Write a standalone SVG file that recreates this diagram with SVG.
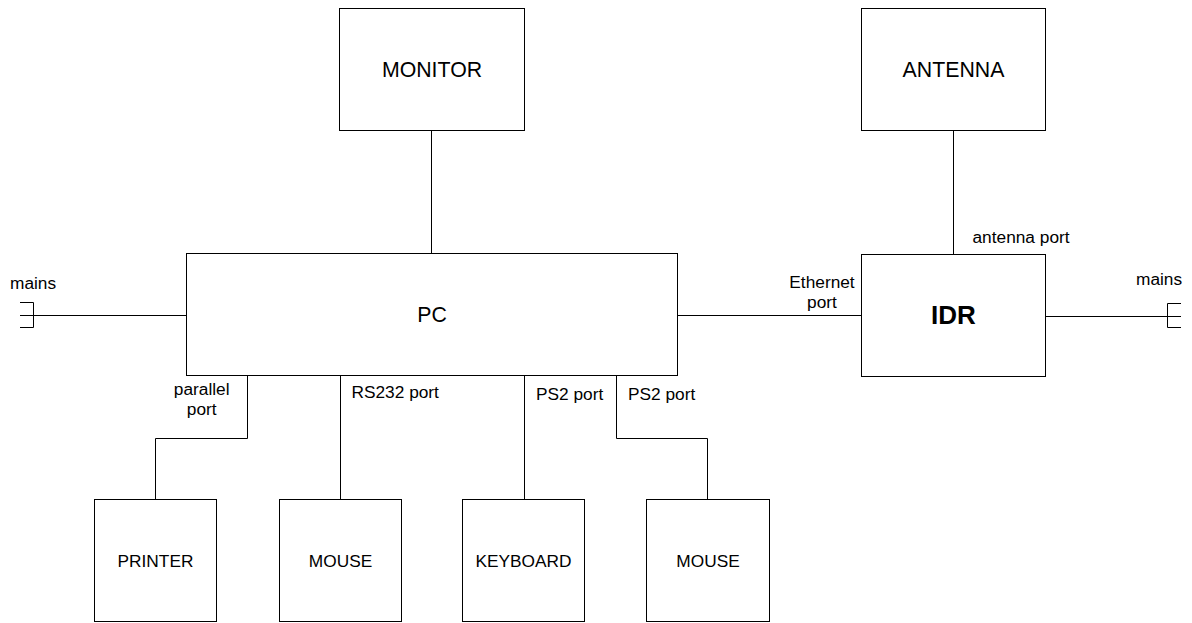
<svg xmlns="http://www.w3.org/2000/svg" width="1192" height="623" viewBox="0 0 1192 623">
<style>
.box{fill:#fff;stroke:#000;stroke-width:1}
.ln{fill:none;stroke:#000;stroke-width:1}
text{font-family:"Liberation Sans",Arial,sans-serif;fill:#000}
.big{font-size:21.3px;text-anchor:middle}
.sm{font-size:17.3px;text-anchor:middle}
.lbl{font-size:17.3px}
.bold{font-size:26px;font-weight:bold;text-anchor:middle}
</style>
<rect width="1192" height="623" fill="#fff"/>
<g id="connectors">
<line class="ln" x1="431.5" y1="130.5" x2="431.5" y2="253.5"/>
<line class="ln" x1="953.5" y1="130.5" x2="953.5" y2="254.5"/>
<line class="ln" x1="677.5" y1="315.5" x2="861.5" y2="315.5"/>
<line class="ln" x1="1045.5" y1="316.5" x2="1181" y2="316.5"/>
<path class="ln" d="M1181 303.5 H1167.5 V327.5 H1181"/>
<line class="ln" x1="20" y1="315.5" x2="186.5" y2="315.5"/>
<path class="ln" d="M20 302.5 H33.5 V327.5 H20"/>
<path class="ln" d="M247.5 375.5 V438.5 H155.5 V499.5"/>
<line class="ln" x1="340.5" y1="375.5" x2="340.5" y2="499.5"/>
<line class="ln" x1="524.5" y1="375.5" x2="524.5" y2="499.5"/>
<path class="ln" d="M616.5 375.5 V438.5 H707.5 V499.5"/>
<text class="lbl" x="10" y="289">mains</text>
<text class="lbl" x="1136" y="285">mains</text>
<text class="sm" x="201.7" y="395">parallel</text>
<text class="sm" x="201.7" y="415">port</text>
<text class="lbl" x="351.5" y="398">RS232 port</text>
<text class="lbl" x="536" y="400">PS2 port</text>
<text class="lbl" x="628" y="400">PS2 port</text>
<text class="sm" x="822" y="288">Ethernet</text>
<text class="sm" x="822" y="308">port</text>
<text class="lbl" x="972.5" y="243">antenna port</text>
</g>
<g id="monitor"><rect class="box" x="339.5" y="8.5" width="185" height="122"/><text class="big" x="432" y="76.7">MONITOR</text></g>
<g id="antenna"><rect class="box" x="861.5" y="8.5" width="184" height="122"/><text class="big" x="953.5" y="76.7">ANTENNA</text></g>
<g id="pc"><rect class="box" x="186.5" y="253.5" width="491" height="122"/><text class="big" x="432" y="321.7">PC</text></g>
<g id="idr"><rect class="box" x="861.5" y="254.5" width="184" height="122"/><text class="bold" x="953.5" y="324">IDR</text></g>
<g id="printer"><rect class="box" x="94.5" y="499.5" width="122" height="122"/><text class="sm" x="155.5" y="566.5">PRINTER</text></g>
<g id="mouse1"><rect class="box" x="279.5" y="499.5" width="122" height="122"/><text class="sm" x="340.5" y="566.5">MOUSE</text></g>
<g id="keyboard"><rect class="box" x="462.5" y="499.5" width="122" height="122"/><text class="sm" x="523.5" y="566.5">KEYBOARD</text></g>
<g id="mouse2"><rect class="box" x="646.5" y="499.5" width="123" height="122"/><text class="sm" x="708" y="566.5">MOUSE</text></g>
</svg>
